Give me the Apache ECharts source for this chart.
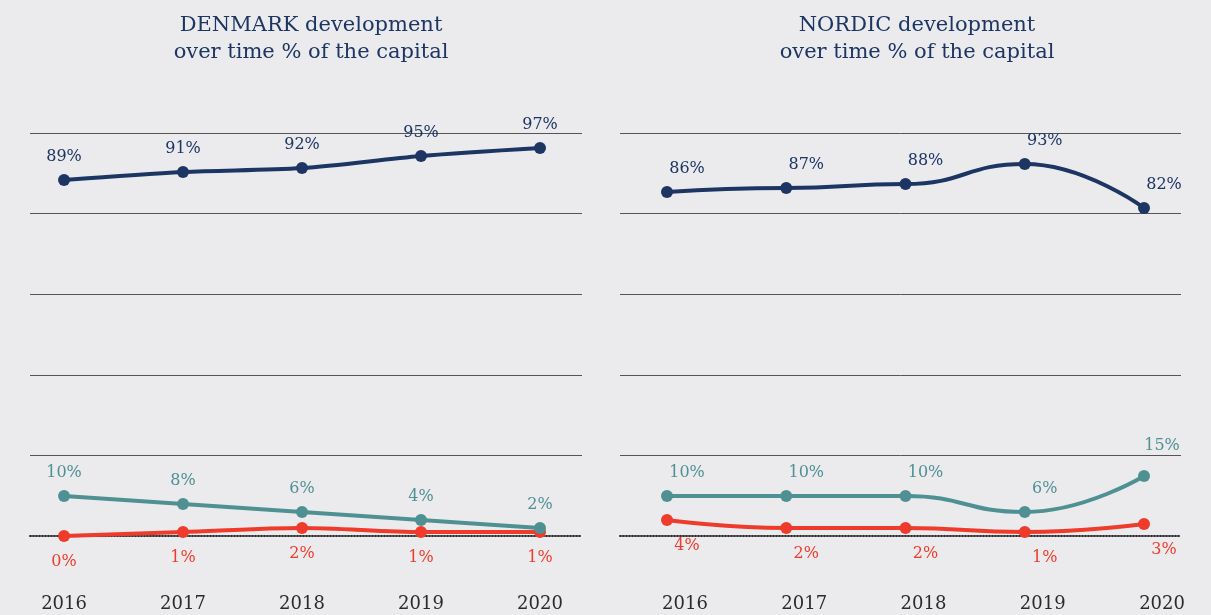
<!DOCTYPE html>
<html>
<head>
<meta charset="utf-8">
<script src="https://cdn.jsdelivr.net/npm/echarts@6/dist/echarts.min.js"></script>
<style>
  html, body { margin: 0; padding: 0; background: #ebebed; }
  #chart { width: 1211px; height: 615px; }
</style>
</head>
<body>
<div id="chart"></div>
<script>
// data
var years = [2016, 2017, 2018, 2019, 2020];

var dkNavy = [89, 91, 92, 95, 97];
var dkTeal = [10, 8, 6, 4, 2];
var dkRed  = [0, 1, 2, 1, 1];

var noNavy = [86, 87, 88, 93, 82];
var noTeal = [10, 10, 10, 6, 15];
var noRed  = [4, 2, 2, 1, 3];

var NAVY = '#1c3563';
var TEAL = '#4f9093';
var RED = '#ee3b2c';
var FONT = 'DejaVu Serif';

function pairs(vals) {
    return years.map(function (y, i) { return [y, vals[i]]; });
}

function makeXAxis(idx, min, max, pad) {
    return {
        type: 'value',
        gridIndex: idx,
        min: min,
        max: max,
        axisTick: { show: false },
        splitLine: { show: false },
        axisLine: {
            show: true,
            onZero: false,
            lineStyle: { color: '#2a2a2a', width: 2, type: [1, 2] }
        },
        axisLabel: {
            customValues: years,
            formatter: function (v) { return String(v); },
            color: '#2b2b2b',
            fontFamily: FONT,
            fontSize: 18,
            margin: 59,
            padding: pad
        }
    };
}

// gridlines sit a touch off the 20% marks in the original, so the step is 20.15
function makeYAxis(idx) {
    return {
        type: 'value',
        gridIndex: idx,
        min: 0,
        max: 100.75,
        interval: 20.15,
        axisLine: { show: false },
        axisTick: { show: false },
        axisLabel: { show: false },
        splitLine: {
            show: true,
            showMinLine: false,
            lineStyle: { color: '#555', width: 1 }
        }
    };
}

function makeSeries(idx, vals, color, pos, dx, monotone) {
    var s = {
        type: 'line',
        xAxisIndex: idx,
        yAxisIndex: idx,
        data: pairs(vals),
        smooth: monotone ? 0.5 : 0.3,
        symbol: 'circle',
        symbolSize: 12,
        lineStyle: { color: color, width: 4 },
        itemStyle: { color: color },
        label: {
            show: true,
            position: pos,
            distance: pos === 'top' ? 9 : 12,
            offset: [dx, 0],
            color: color,
            fontFamily: FONT,
            fontSize: 16,
            formatter: function (p) { return p.value[1] + '%'; }
        },
        animation: false
    };
    if (monotone) s.smoothMonotone = 'x';
    return s;
}

var noTealSeries = makeSeries(1, noTeal, TEAL, 'top', 20, true);
// last label of the nordic teal line sits higher, above the gridline
noTealSeries.data[4] = { value: noTealSeries.data[4], label: { offset: [18, -7] } };

var myChart = echarts.init(document.getElementById('chart'));
var options = {
    backgroundColor: '#ebebed',
    title: [
        {
            text: 'DENMARK development\nover time % of the capital',
            left: 306,
            top: 7,
            textAlign: 'center',
            textStyle: { color: NAVY, fontFamily: FONT, fontWeight: 'normal', fontSize: 21, lineHeight: 27 }
        },
        {
            text: 'NORDIC development\nover time % of the capital',
            left: 912,
            top: 7,
            textAlign: 'center',
            textStyle: { color: NAVY, fontFamily: FONT, fontWeight: 'normal', fontSize: 21, lineHeight: 27 }
        }
    ],
    grid: [
        { left: 30, width: 552, top: 133, height: 403 },
        { left: 620, width: 561, top: 133, height: 403 }
    ],
    xAxis: [
        makeXAxis(0, 2015.714, 2020.353, 0),
        makeXAxis(1, 2015.606, 2020.31, [0, 0, 0, 36])
    ],
    yAxis: [makeYAxis(0), makeYAxis(1)],
    series: [
        makeSeries(0, dkRed, RED, 'bottom', 0, false),
        makeSeries(0, dkTeal, TEAL, 'top', 0, false),
        makeSeries(0, dkNavy, NAVY, 'top', 0, false),
        makeSeries(1, noRed, RED, 'bottom', 20, true),
        noTealSeries,
        makeSeries(1, noNavy, NAVY, 'top', 20, true)
    ]
};
myChart.setOption(options);
</script>
</body>
</html>
